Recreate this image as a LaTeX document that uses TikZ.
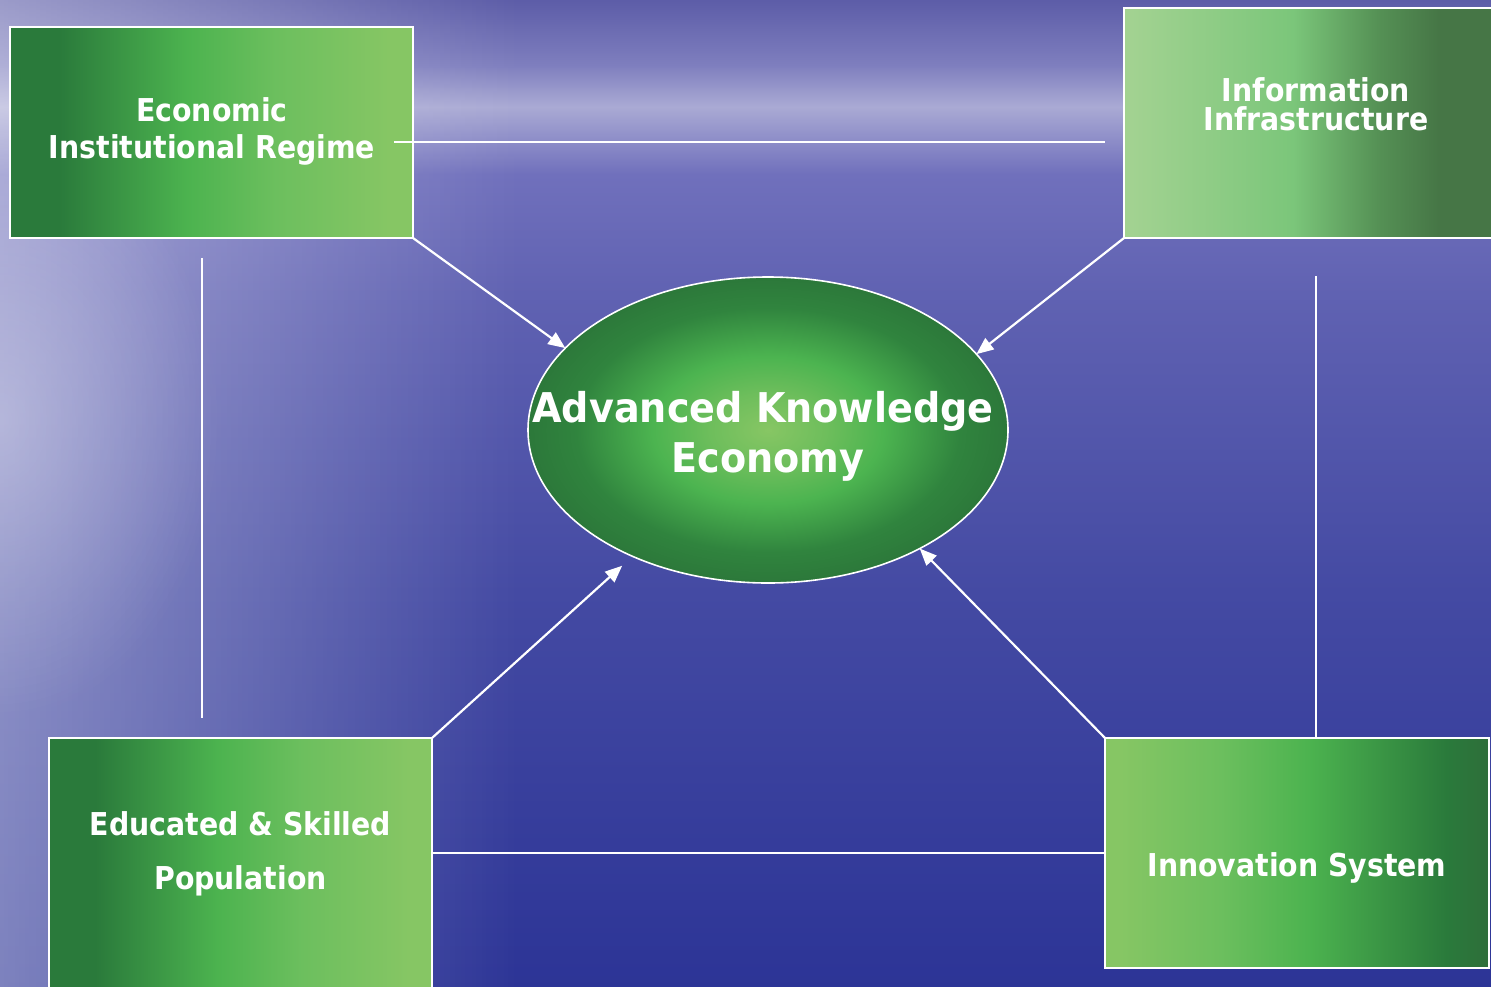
\documentclass[tikz,border=0pt]{standalone}
\usepackage{fontspec}
\newfontfamily\tah{DejaVu Sans}[FakeStretch=0.9]
\newfontfamily\tahw{DejaVu Sans}[FakeStretch=0.93]
\usetikzlibrary{arrows.meta,shapes.geometric,fadings}

\definecolor{bga}{RGB}{44,52,150}
\definecolor{bgb}{RGB}{68,74,163}
\definecolor{bgc}{RGB}{96,98,178}
\definecolor{bgd}{RGB}{112,112,188}
\definecolor{bge}{RGB}{170,170,212}
\definecolor{bgf}{RGB}{126,126,190}
\definecolor{bgg}{RGB}{90,90,166}
\pgfdeclareverticalshading{bgsh}{100bp}{color(0bp)=(bga); color(25bp)=(bga); color(45bp)=(bgb); color(60bp)=(bgc); color(66bp)=(bgd); color(69.4bp)=(bge); color(71.5bp)=(bgf); color(75bp)=(bgg); color(100bp)=(bgg)}

\definecolor{gdark}{RGB}{42,122,59}
\definecolor{gbright}{RGB}{76,179,79}
\definecolor{gmid}{RGB}{108,191,94}
\definecolor{glight}{RGB}{134,198,100}
\definecolor{gdarkr}{RGB}{46,110,58}
\pgfdeclarehorizontalshading{gA}{100bp}{color(0bp)=(gdark); color(31bp)=(gdark); color(47bp)=(gbright); color(58bp)=(gmid); color(72bp)=(glight); color(100bp)=(glight)}
\pgfdeclarehorizontalshading{gD}{100bp}{color(0bp)=(glight); color(27bp)=(glight); color(40bp)=(gmid); color(51.5bp)=(gbright); color(69.5bp)=(gdark); color(75bp)=(gdarkr); color(100bp)=(gdarkr)}
\definecolor{gbo}{RGB}{162,210,145}
\definecolor{gbt}{RGB}{123,198,122}
\definecolor{gbh}{RGB}{85,145,85}
\definecolor{gbf}{RGB}{70,118,70}
\pgfdeclarehorizontalshading{gB}{100bp}{color(0bp)=(gbo); color(26bp)=(gbo); color(47bp)=(gbt); color(58bp)=(gbh); color(66bp)=(gbf); color(100bp)=(gbf)}

\definecolor{eo}{RGB}{135,198,100}
\definecolor{ei}{RGB}{110,190,92}
\definecolor{eii}{RGB}{76,180,80}
\definecolor{eiii}{RGB}{48,132,62}
\definecolor{eiv}{RGB}{44,120,58}
\pgfdeclareradialshading{ellsh}{\pgfpoint{0bp}{0bp}}{color(0bp)=(eo); color(6bp)=(ei); color(12bp)=(eii); color(20bp)=(eiii); color(25bp)=(eiv); color(50bp)=(eiv)}

\tikzfading[name=glow, inner color=transparent!70, outer color=transparent!100]

\begin{document}
\begin{tikzpicture}[x=1pt,y=-1pt,
  boxnode/.style={draw=white, line width=2pt, shade, inner sep=0pt, outer sep=0pt},
  boxtext/.style={text=white, inner sep=0pt, anchor=base, font=\tah\bfseries\fontsize{31.5}{38}\selectfont},
  elltext/.style={text=white, inner sep=0pt, anchor=base, font=\tahw\bfseries\fontsize{41}{50}\selectfont},
  conn/.style={draw=white, line width=2.2pt},
  arr/.style={conn, -{Triangle[length=17pt,width=14pt]}}]
\useasboundingbox (0,0) rectangle (1491,986);
\begin{scope}
\clip (0,0) rectangle (1491,986);
% background
\shade[shading=bgsh] (-5,-5) rectangle (1496,991);
\fill[white, opacity=0.4, path fading=east] (-20,-40) rectangle (520,1030);
\fill[white, path fading=glow] (0,420) ellipse [x radius=220, y radius=300];

% boxes
\node[boxnode, shading=gA, minimum width=403pt, minimum height=211pt] (bA) at (211.5,132.5) {};
\node[boxnode, shading=gB, minimum width=384pt, minimum height=230pt] (bB) at (1316,123) {};
\node[boxnode, shading=gA, minimum width=383pt, minimum height=272pt] (bC) at (240.5,874) {};
\node[boxnode, shading=gD, minimum width=384pt, minimum height=230pt] (bD) at (1297,853) {};

% ellipse
\node[ellipse, draw=white, line width=1.6pt, shade, shading=ellsh, minimum width=480pt, minimum height=306pt, inner sep=0pt, outer sep=0pt] (ell) at (768,430) {};

% texts
\node[boxtext] (tA1) at (212,121) {Economic};
\node[boxtext] (tA2) at (212,158) {Institutional Regime};
\node[boxtext] (tB1) at (1316,101) {Information};
\node[boxtext] (tB2) at (1316,130) {Infrastructure};
\node[boxtext] (tC1) at (240.5,835) {Educated \& Skilled};
\node[boxtext] (tC2) at (240.5,889) {Population};
\node[boxtext] (tD1) at (1297,876) {Innovation System};
\node[elltext] (tE1) at (763,422) {Advanced Knowledge};
\node[elltext] (tE2) at (768,472) {Economy};

% plain connectors
\coordinate (hs) at (394,142);
\coordinate (he) at (1105,142);
\coordinate (vls) at (202,258);
\coordinate (vle) at (202,718);
\coordinate (vrs) at (1316,276);
\draw[conn] (hs) -- (he);
\draw[conn] (vls) -- (vle);
\draw[conn] (vrs) -- (vrs |- bD.north);
\draw[conn] (bC.east |- 0,853) -- (bD.west |- 0,853);

% arrows
\draw[arr] (bA.south east) -- (ell.158.8);
\draw[arr] (bB.south west) -- (ell.20.9);
\draw[arr, shorten >=14pt] (bC.north east) -- (ell.223.4);
\draw[arr] (bD.north west) -- (ell.-38.7);
\end{scope}
\end{tikzpicture}
\end{document}
